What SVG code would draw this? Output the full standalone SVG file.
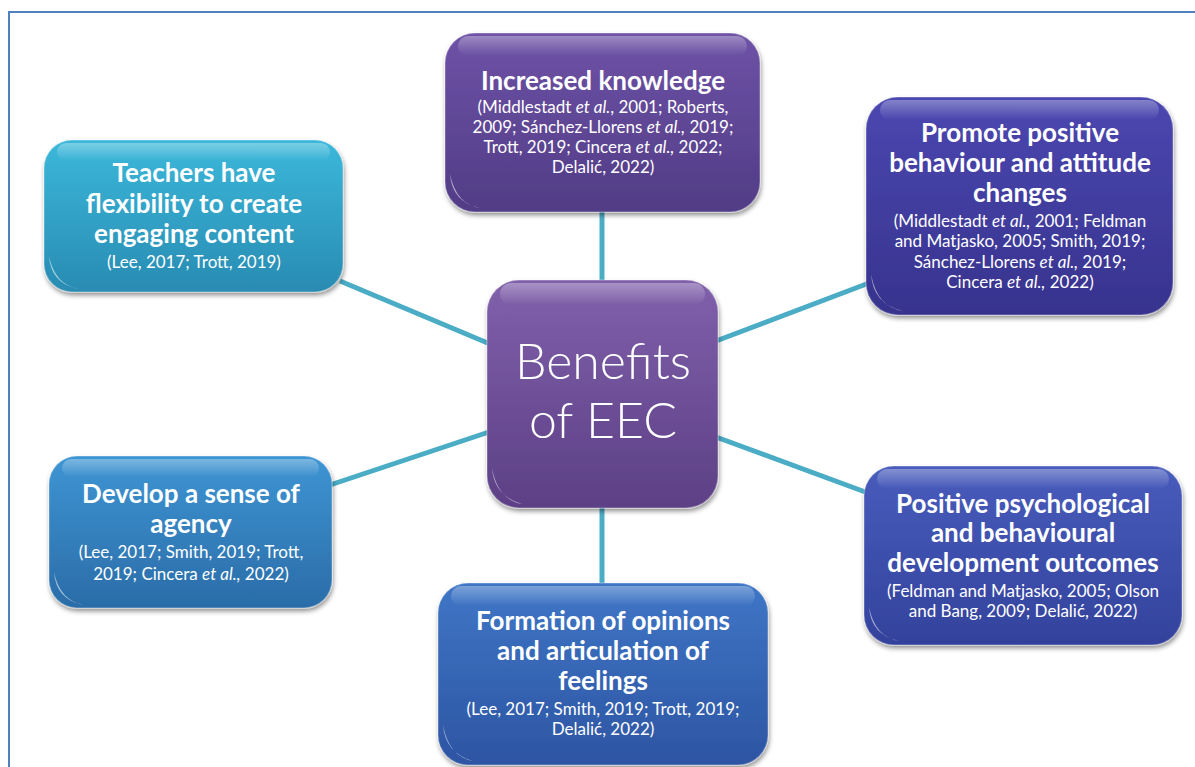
<svg xmlns="http://www.w3.org/2000/svg" width="1195" height="767" viewBox="0 0 1195 767">
<style>
.t{font-family:Lato,"Liberation Sans",sans-serif;font-weight:bold;font-size:26px;fill:#fff;text-anchor:middle}
.c{font-family:Lato,"Liberation Sans",sans-serif;font-size:17px;fill:#fff;text-anchor:middle}
.big{font-family:Lato,"Liberation Sans",sans-serif;font-weight:300;font-size:50px;fill:#fff;text-anchor:middle}
.hl{fill:url(#hl)}
.gl{fill:#fff;opacity:0.55}
.box{filter:url(#sh);stroke:#ffffff;stroke-opacity:0.25;stroke-width:1.5}
.con line{stroke:#4bacc6;stroke-width:5}
</style>
<defs>
<filter id="sh" x="-10%" y="-10%" width="125%" height="130%">
<feGaussianBlur in="SourceAlpha" stdDeviation="2.5"/>
<feOffset dx="1" dy="3" result="b"/>
<feComponentTransfer><feFuncA type="linear" slope="0.45"/></feComponentTransfer>
<feMerge><feMergeNode/><feMergeNode in="SourceGraphic"/></feMerge>
</filter>
<linearGradient id="hl" x1="0" y1="0" x2="0" y2="1">
<stop offset="0" stop-color="#fff" stop-opacity="0.32"/>
<stop offset="1" stop-color="#fff" stop-opacity="0"/>
</linearGradient>
<linearGradient id="gCenter" x1="0" y1="0" x2="0" y2="1"><stop offset="0" stop-color="#8060ab"/><stop offset="1" stop-color="#5c4085"/></linearGradient>
<linearGradient id="gTop" x1="0" y1="0" x2="0" y2="1"><stop offset="0" stop-color="#6e52a6"/><stop offset="1" stop-color="#513c86"/></linearGradient>
<linearGradient id="gTR" x1="0" y1="0" x2="0" y2="1"><stop offset="0" stop-color="#4b47b0"/><stop offset="1" stop-color="#37338e"/></linearGradient>
<linearGradient id="gTL" x1="0" y1="0" x2="0" y2="1"><stop offset="0" stop-color="#3bb8da"/><stop offset="1" stop-color="#298bb2"/></linearGradient>
<linearGradient id="gBL" x1="0" y1="0" x2="0" y2="1"><stop offset="0" stop-color="#3e95d3"/><stop offset="1" stop-color="#2a6ca8"/></linearGradient>
<linearGradient id="gBR" x1="0" y1="0" x2="0" y2="1"><stop offset="0" stop-color="#485cbc"/><stop offset="1" stop-color="#33429c"/></linearGradient>
<linearGradient id="gB" x1="0" y1="0" x2="0" y2="1"><stop offset="0" stop-color="#3f76c6"/><stop offset="1" stop-color="#2d55a3"/></linearGradient>
</defs>
<rect width="1195" height="767" fill="#fff"/>
<path d="M9 767 V12 H1195" fill="none" stroke="#4f81bd" stroke-width="2"/>

<g class="con" id="connectors">
<line x1="602" y1="210" x2="602" y2="282"/>
<line x1="602" y1="506" x2="602" y2="585"/>
<line x1="340" y1="281" x2="490" y2="344"/>
<line x1="330" y1="485" x2="489" y2="432"/>
<line x1="716" y1="341" x2="869" y2="283"/>
<line x1="716" y1="437" x2="868" y2="493"/>
</g>

<g id="n-center">
<rect class="box" x="487" y="280" width="231" height="228" rx="32" fill="url(#gCenter)"/>
<rect class="hl" x="500" y="283" width="205" height="22" rx="11"/>
<path class="gl" d="M492 468 q2 28 30 36 q-24 -4 -30 -36z"/>
<text class="big" x="603" y="379">Benefits</text>
<text class="big" x="603" y="438">of EEC</text>
</g>

<g id="n-knowledge">
<rect class="box" x="445" y="33" width="315" height="179" rx="30" fill="url(#gTop)"/>
<rect class="hl" x="458" y="36" width="289" height="20" rx="10"/>
<path class="gl" d="M450 174 q2 28 30 34 q-24 -4 -30 -34z"/>
<text class="t" x="603" y="90">Increased knowledge</text>
<text class="c" x="603" y="113">(Middlestadt <tspan font-style="italic">et al.</tspan>, 2001; Roberts,</text>
<text class="c" x="603" y="133">2009; Sánchez-Llorens <tspan font-style="italic">et al.,</tspan> 2019;</text>
<text class="c" x="603" y="153">Trott, 2019; Cincera <tspan font-style="italic">et al.,</tspan> 2022;</text>
<text class="c" x="603" y="173">Delalić, 2022)</text>
</g>

<g id="n-promote">
<rect class="box" x="866" y="97" width="307" height="218" rx="32" fill="url(#gTR)"/>
<rect class="hl" x="880" y="100" width="279" height="20" rx="10"/>
<path class="gl" d="M871 274 q2 30 32 37 q-26 -4 -32 -37z"/>
<text class="t" x="1020" y="142">Promote positive</text>
<text class="t" x="1020" y="172">behaviour and attitude</text>
<text class="t" x="1020" y="202">changes</text>
<text class="c" x="1020" y="227">(Middlestadt <tspan font-style="italic">et al.,</tspan> 2001; Feldman</text>
<text class="c" x="1020" y="247">and Matjasko, 2005; Smith, 2019;</text>
<text class="c" x="1020" y="268">Sánchez-Llorens <tspan font-style="italic">et al.,</tspan> 2019;</text>
<text class="c" x="1020" y="288">Cincera <tspan font-style="italic">et al.,</tspan> 2022)</text>
</g>

<g id="n-teachers">
<rect class="box" x="44" y="140" width="299" height="152" rx="28" fill="url(#gTL)"/>
<rect class="hl" x="57" y="143" width="273" height="18" rx="9"/>
<path class="gl" d="M49 256 q2 28 30 33 q-24 -4 -30 -33z"/>
<text class="t" x="194" y="182">Teachers have</text>
<text class="t" x="194" y="213">flexibility to create</text>
<text class="t" x="194" y="243">engaging content</text>
<text class="c" x="194" y="268">(Lee, 2017; Trott, 2019)</text>
</g>

<g id="n-agency">
<rect class="box" x="49" y="456" width="283" height="152" rx="28" fill="url(#gBL)"/>
<rect class="hl" x="62" y="459" width="257" height="18" rx="9"/>
<path class="gl" d="M54 572 q2 28 30 33 q-24 -4 -30 -33z"/>
<text class="t" x="191" y="503">Develop a sense of</text>
<text class="t" x="191" y="533">agency</text>
<text class="c" x="191" y="558">(Lee, 2017; Smith, 2019; Trott,</text>
<text class="c" x="191" y="580">2019; Cincera <tspan font-style="italic">et al.,</tspan> 2022)</text>
</g>

<g id="n-psych">
<rect class="box" x="864" y="466" width="318" height="179" rx="30" fill="url(#gBR)"/>
<rect class="hl" x="877" y="469" width="292" height="20" rx="10"/>
<path class="gl" d="M869 607 q2 28 30 34 q-24 -4 -30 -34z"/>
<text class="t" x="1023" y="513">Positive psychological</text>
<text class="t" x="1023" y="542">and behavioural</text>
<text class="t" x="1023" y="572">development outcomes</text>
<text class="c" x="1023" y="597">(Feldman and Matjasko, 2005; Olson</text>
<text class="c" x="1023" y="617">and Bang, 2009; Delalić, 2022)</text>
</g>

<g id="n-formation">
<rect class="box" x="438" y="583" width="330" height="182" rx="30" fill="url(#gB)"/>
<rect class="hl" x="451" y="586" width="304" height="20" rx="10"/>
<path class="gl" d="M443 725 q2 28 30 36 q-24 -4 -30 -36z"/>
<text class="t" x="603" y="630">Formation of opinions</text>
<text class="t" x="603" y="660">and articulation of</text>
<text class="t" x="603" y="690">feelings</text>
<text class="c" x="603" y="715">(Lee, 2017; Smith, 2019; Trott, 2019;</text>
<text class="c" x="603" y="735">Delalić, 2022)</text>
</g>
</svg>
